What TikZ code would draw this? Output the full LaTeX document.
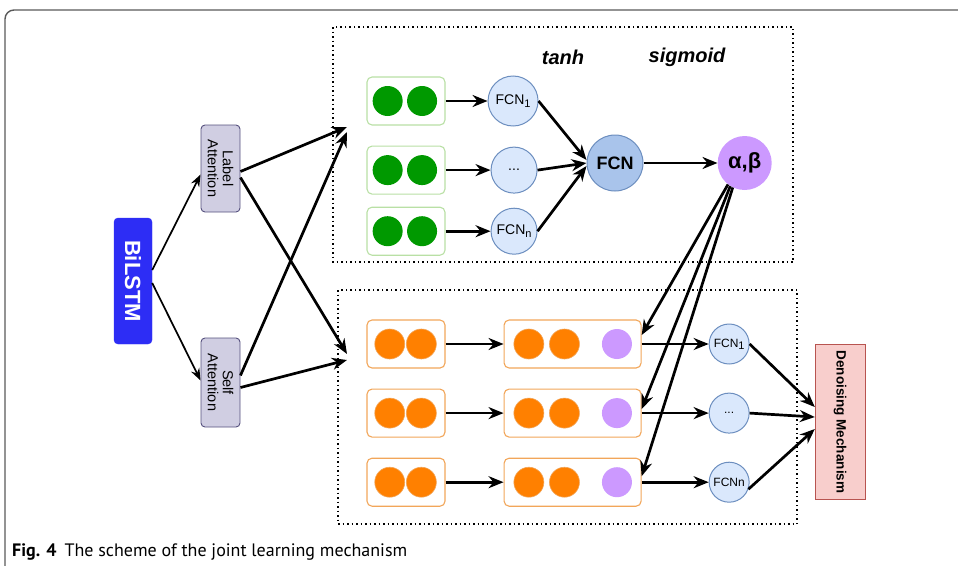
\documentclass[tikz,border=0pt]{standalone}
\usepackage{fontspec}
\setmainfont{Liberation Sans}
\newfontfamily\capfont{PT Sans}
\usetikzlibrary{arrows.meta,positioning}

\definecolor{bilstmblue}{RGB}{45,45,245}
\definecolor{attnfill}{HTML}{D0CEE2}
\definecolor{attnline}{HTML}{56517E}
\definecolor{grnline}{HTML}{B9E0A5}
\definecolor{grndot}{HTML}{009900}
\definecolor{orgline}{HTML}{F2A65A}
\definecolor{orgdot}{HTML}{FF8000}
\definecolor{purpdot}{HTML}{CC99FF}
\definecolor{fcnfill}{HTML}{DAE8FC}
\definecolor{fcnline}{HTML}{6C8EBF}
\definecolor{fcndark}{HTML}{A9C4EB}
\definecolor{dnfill}{HTML}{F8CECC}
\definecolor{dnline}{HTML}{B85450}

\newcommand{\sub}[2][-2.5pt]{\raisebox{#1}{\fontsize{11}{11}\selectfont #2}}

\tikzset{
  box/.style={draw, rounded corners=5pt, fill=white, minimum height=48pt, line width=1.1pt},
  gbox/.style={box, draw=grnline, minimum width=78pt},
  obox/.style={box, draw=orgline, minimum width=78pt},
  mbox/.style={box, draw=orgline, minimum width=137pt},
  dot/.style={circle, minimum size=30pt, inner sep=0pt},
  gdot/.style={dot, fill=grndot},
  odot/.style={dot, fill=orgdot, draw=orgline, line width=0.6pt},
  pdot/.style={dot, fill=purpdot},
  fcn/.style={circle, draw=fcnline, fill=fcnfill, inner sep=0pt, line width=1pt, font=\fontsize{14}{16}\selectfont},
  vbox/.style={draw, rotate=-90, align=center, inner sep=2pt},
  group/.style={draw, line width=1.5pt, dash pattern=on 1.5pt off 3pt},
  fname/.style={font=\bfseries\itshape\fontsize{20}{22}\selectfont},
  arr/.style={-{Stealth[length=15pt,width=12pt]}, line width=2.7pt},
  thin arr/.style={-{Stealth[length=12pt,width=9pt]}, line width=1.7pt},
}

\begin{document}
\begin{tikzpicture}[x=1pt,y=-1pt]
  \useasboundingbox (0,0) rectangle (958,565);
  \draw[line width=1.4pt, draw=black!65, rounded corners=9pt] (5,566) -- (5,10) -- (958,10);

  % groups
  \draw[group] (333,27) rectangle (793,262);
  \draw[group] (338,290) rectangle (797,524);

  % encoder side
  \node[vbox, fill=bilstmblue, draw=bilstmblue, text=white, rounded corners=4pt,
        minimum width=126pt, minimum height=38pt, font=\bfseries\fontsize{22}{24}\selectfont] (bi) at (133,281) {BiLSTM};
  \node[vbox, fill=attnfill, draw=attnline, rounded corners=4pt, minimum width=87pt, line width=0.9pt,
        minimum height=39pt, inner sep=1pt, font=\fontsize{14.5}{15}\selectfont] (la) at (220.5,168.5) {Label\\Attention};
  \node[vbox, fill=attnfill, draw=attnline, rounded corners=4pt, minimum width=89pt, line width=0.9pt,
        minimum height=39pt, inner sep=1pt, font=\fontsize{14.5}{15}\selectfont] (sa) at (220.5,382.5) {Self\\Attention};

  \coordinate (topA) at (347,127);
  \coordinate (topB) at (347,132);
  \coordinate (botA) at (347,354);
  \coordinate (botB) at (347,360);

  % label branch
  \node[gbox] (g1) at (406,101) {};
  \node[gdot, right = 6pt of g1.west, anchor=west] (g1a) {};
  \node[gdot, right = 4pt of g1a] (g1b) {};
  \node[gbox, below = 20pt of g1] (g2) {};
  \node[gdot, right = 6pt of g2.west, anchor=west] (g2a) {};
  \node[gdot, right = 4pt of g2a] (g2b) {};
  \node[gbox, below = 12pt of g2] (g3) {};
  \node[gdot, right = 6pt of g3.west, anchor=west] (g3a) {};
  \node[gdot, right = 4pt of g3a] (g3b) {};

  \node[fcn, minimum size=50pt, right = 42pt of g1] (f1) {FCN\sub{1}};
  \node[fcn, minimum size=46pt, right = 45pt of g2] (fd) {...};
  \node[fcn, minimum size=46pt, right = 45pt of g3] (fn) {FCN\sub{n}};
  \node[circle, draw=fcnline, fill=fcndark, minimum size=56pt, inner sep=0pt, line width=1pt,
        font=\bfseries\fontsize{18}{20}\selectfont] (fcn) at (615,163) {FCN};
  \node[circle, fill=purpdot, minimum size=54pt, inner sep=0pt,
        font=\bfseries\fontsize{22}{24}\selectfont, right = 74pt of fcn] (ab) {α,β};
  \node[fname] (tanh) at (563,57) {tanh};
  \node[fname] (sigm) at (687,57) {sigmoid};

  % self branch
  \node[obox] (o1) at (406,344) {};
  \node[odot, right = 8pt of o1.west, anchor=west] (o1a) {};
  \node[odot, right = 1pt of o1a] (o1b) {};
  \node[obox, below = 20pt of o1] (o2) {};
  \node[odot, right = 8pt of o2.west, anchor=west] (o2a) {};
  \node[odot, right = 1pt of o2a] (o2b) {};
  \node[obox, below = 20pt of o2] (o3) {};
  \node[odot, right = 8pt of o3.west, anchor=west] (o3a) {};
  \node[odot, right = 1pt of o3a] (o3b) {};

  \node[mbox, right = 58pt of o1] (m1) {};
  \node[odot, right = 10pt of m1.west, anchor=west] (m1a) {};
  \node[odot, right = 5pt of m1a] (m1b) {};
  \node[pdot, right = 22pt of m1b] (m1c) {};
  \node[mbox, right = 58pt of o2] (m2) {};
  \node[odot, right = 10pt of m2.west, anchor=west] (m2a) {};
  \node[odot, right = 5pt of m2a] (m2b) {};
  \node[pdot, right = 22pt of m2b] (m2c) {};
  \node[mbox, right = 58pt of o3] (m3) {};
  \node[odot, right = 10pt of m3.west, anchor=west] (m3a) {};
  \node[odot, right = 5pt of m3a] (m3b) {};
  \node[pdot, right = 22pt of m3b] (m3c) {};

  \node[fcn, minimum size=40pt, font=\fontsize{12}{13}\selectfont, right = 67pt of m1] (s1) {FCN\sub[-2pt]{1}};
  \node[fcn, minimum size=40pt, font=\fontsize{12}{13}\selectfont, right = 67pt of m2] (s2) {...};
  \node[fcn, minimum size=40pt, font=\fontsize{12}{13}\selectfont, right = 67pt of m3] (s3) {FCNn};

  \node[vbox, fill=dnfill, draw=dnline, minimum width=155pt, minimum height=50pt,
        font=\bfseries\fontsize{13.5}{15}\selectfont] (dn) at (840,422) {Denoising Mechanism};

  % caption
  \node[anchor=base west, inner sep=0pt, font=\capfont\fontsize{18}{20}\selectfont] (cap) at (12,556)
    {\textbf{Fig. 4}\hspace{8pt}The scheme of the joint learning mechanism};

  % edges
  \draw[thin arr] ([yshift=11pt]bi.north) -- ([yshift=-6pt]la.south);
  \draw[thin arr] ([yshift=-2pt]bi.north) -- ([yshift=2pt]sa.south);
  \draw[arr] ([yshift=-3pt]la.north) -- (topA);
  \draw[arr] ([yshift=-9pt]la.north) -- (botA);
  \draw[arr] ([yshift=7pt]sa.north) -- (topB);
  \draw[arr] ([yshift=-5pt]sa.north) -- (botB);

  \draw[arr] (g1.east) -- (f1.west);
  \draw[arr] (g2.east) -- (fd.west);
  \draw[arr] (g3.east) -- (fn.west);
  \draw[arr] (f1.east) -- ([yshift=3pt]fcn.west);
  \draw[arr] (fd.east) -- (fcn.west);
  \draw[arr] (fn.east) -- ([yshift=-3pt]fcn.west);
  \draw[arr] (fcn.east) -- (ab.west);

  \draw[arr] (o1.east) -- (m1.west);
  \draw[arr] (o2.east) -- (m2.west);
  \draw[arr] (o3.east) -- (m3.west);
  \draw[arr] (ab.232) -- ([yshift=9pt]m1.east);
  \draw[arr] (ab.238) -- ([yshift=4pt]m2.east);
  \draw[arr] (ab.244) -- ([yshift=6pt]m3.east);

  \draw[arr] (m1.east) -- (s1.west);
  \draw[arr] (m2.east) -- (s2.west);
  \draw[arr] (m3.east) -- (s3.west);
  \draw[arr] (s1.east) -- ([yshift=15pt]dn.south);
  \draw[arr] (s2.east) -- ([yshift=5pt]dn.south);
  \draw[arr] (s3.-20) -- ([yshift=-7pt]dn.south);
\end{tikzpicture}
\end{document}
